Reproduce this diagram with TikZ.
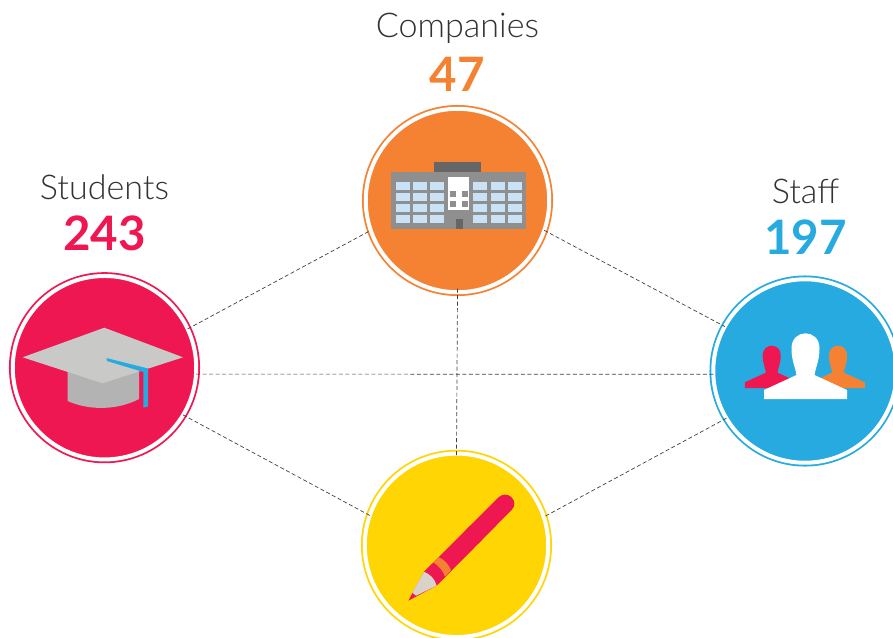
\documentclass[tikz,border=0pt]{standalone}
\usepackage{fontspec}
\setmainfont{Lato}
\newfontfamily\lightfont{Lato Light}
\definecolor{redc}{HTML}{EF1751}
\definecolor{orangec}{HTML}{F58232}
\definecolor{bluec}{HTML}{27AAE0}
\definecolor{yellowc}{HTML}{FFD504}
\definecolor{wallc}{HTML}{8F8F8F}
\definecolor{roofc}{HTML}{666666}
\definecolor{glassc}{HTML}{C9E2F5}
\definecolor{boardc}{HTML}{C9CAC7}
\definecolor{capc}{HTML}{B3B3B3}
\definecolor{woodc}{HTML}{D9D2C8}
\tikzset{
	hub/.style={
		shape = circle,
		inner sep = 0pt,
		outer sep = 0pt,
		minimum size = 3.67cm,
		line width = 0.036cm,
		draw = #1,
		fill = #1,
		double = white,
		double distance = 0.08cm
	},
	link/.style={
		draw = black!75,
		line width = 0.014cm,
		dash pattern = on 0.08cm off 0.05cm
	},
	title/.style={
		anchor = base,
		font = \lightfont\fontsize{19.4}{19.4}\selectfont,
		text = black!80
	},
	count/.style={
		anchor = base,
		font = \bfseries\fontsize{27}{27}\selectfont,
		text = #1
	},
}
\newcommand{\personpath}{
  (-41.5,65.7) -- (-41.5,56.7) -- (-9,41.7)
  .. controls (-10,34) and (-14,28) .. (-14,15)
  .. controls (-14,5) and (-7,0) .. (0,0)
  .. controls (7,0) and (14,5) .. (14,15)
  .. controls (14,28) and (10,34) .. (9,41.7)
  -- (41.5,56.7) -- (41.5,65.7) -- cycle
}

\begin{document}
\begin{tikzpicture}[x=0.02cm, y=-0.02cm]
    \clip (0,0) rectangle (893,637);
    \node[hub=redc] (students) at (104.5,367.7) {};
    \node[hub=orangec] (companies) at (457.5,200.5) {};
    \node[hub=bluec] (staff) at (805,371) {};
    \node[hub=yellowc] (projects) at (456.5,545.3) {};
    % dashed links
    \draw[link] (students.25.2) -- (companies.199.5);
    \draw[link] (companies.-19.7) -- (staff.151.2);
    \draw[link] (students.-4.1) -- (staff.182.1);
    \draw[link, shorten <=-0.07cm, shorten >=-0.07cm] (companies.south) -- (projects.north);
    \draw[link] (students.-31.9) -- (projects.161);
    \draw[link] (staff.211.8) -- (projects.18.6);
    % labels
    \node[title] (companieslabel) at (457.5,37) {Companies};
    \node[count=orangec] (companiescount) at (457.5,91) {47};
    \node[title] (studentslabel) at (104.5,199.5) {Students};
    \node[count=redc] (studentscount) at (104.5,250) {243};
    \node[title] (stafflabel) at (805.5,203) {Staff};
    \node[count=bluec] (staffcount) at (805.5,254) {197};
    % building
    \fill[roofc] (434,161.7) rectangle (481,171.7);
    \fill[wallc] (391,171.7) rectangle (525.7,229);
    \foreach \y in {182,193,204,215}{
      \foreach \x in {396,413,430,473,491,508}{
        \fill[glassc] (\x,\y) rectangle ++(14,8);
      }
    }
    \fill[white] (448,177) rectangle (469,210);
    \foreach \x in {450,462}{
      \foreach \y in {191,201}{
        \fill[wallc] (\x,\y) rectangle ++(6,6);
      }
    }
    \fill[roofc] (456,219) rectangle (463,229);
    % cap
    \fill[capc] (67.7,371.7) -- (67.7,401) .. controls (90,411) and (118,410) .. (139,399) -- (139,371.7) -- cycle;
    \fill[boardc] (22.7,357.3) -- (104.3,327.7) -- (183,357.3) -- (102.7,383.3) -- cycle;
    \fill[bluec] (106.5,358) -- (148,368.5) -- (148,406.5) -- (143.3,407.7) -- (143.3,372) -- (107,361) -- cycle;
    % people
    \fill[redc, shift={(771.7,345.7)}, scale=0.645] \personpath;
    \fill[orangec, shift={(838,345.7)}, scale=0.645] \personpath;
    \fill[white, shift={(805.5,333.3)}] \personpath;
    % pencil
    \fill[redc, rounded corners=5] (460,535.8) -- (505,491) -- (518,503.5) -- (472,550) -- cycle;
    \fill[redc] (424,571.7) -- (470,525.9) -- (482,539.9) -- (436.7,585.7) -- (408.3,600.7) -- cycle;
    \fill[orangec] (433.3,562.3) -- (439,557.3) .. controls (445,560) and (449,565) .. (451,570.3) -- (445,576.7) .. controls (443,571) and (439,566) .. (433.3,562.3) -- cycle;
    \fill[woodc] (424,571.7) .. controls (430,574) and (435,579) .. (436.7,585.7) -- (416,595.7) -- (412.3,592.7) -- cycle;
  \end{tikzpicture}
\end{document}
